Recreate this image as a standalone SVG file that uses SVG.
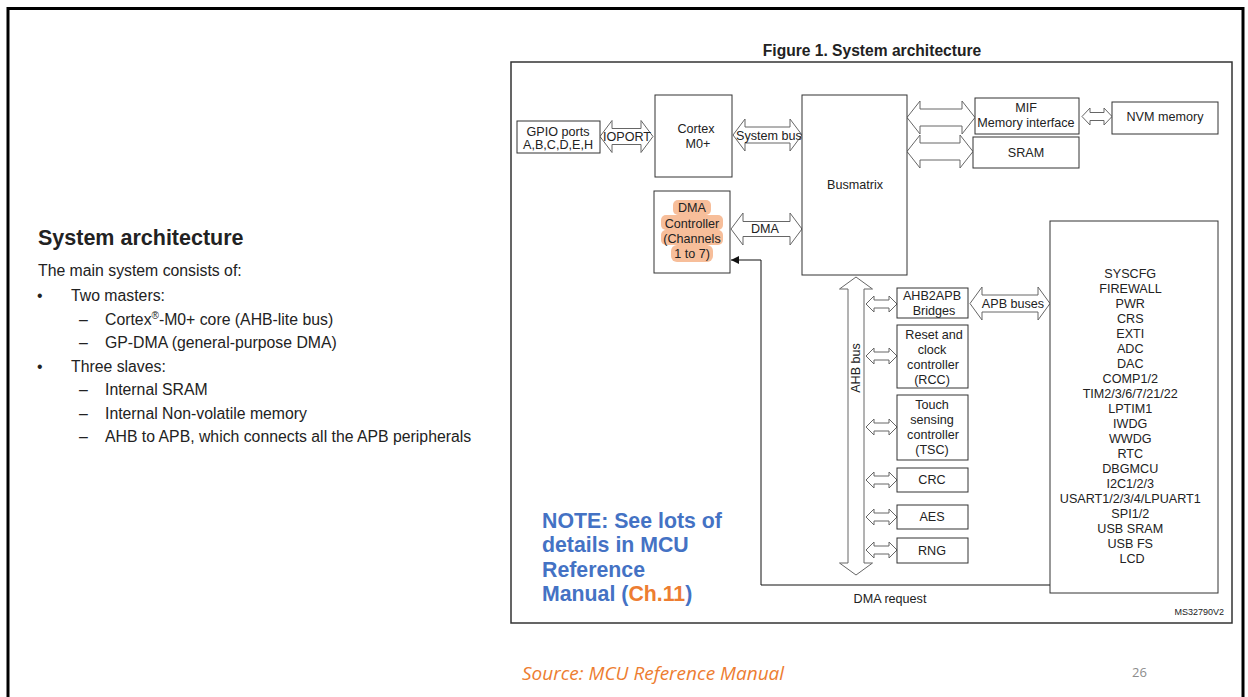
<svg xmlns="http://www.w3.org/2000/svg" width="1248" height="697" viewBox="0 0 1248 697">
<style>
.t{font-family:"Liberation Sans",Arial,sans-serif;fill:#222}
.b{font-size:15.8px}
.f{font-family:"Liberation Sans",Arial,sans-serif;font-size:12.6px;fill:#222;text-anchor:middle}
.box{fill:#fff;stroke:#333;stroke-width:1}
.dar{fill:#fff;stroke:#666;stroke-width:1}
.hl{fill:#F7BE9A}
.note{font-family:"Liberation Sans",Arial,sans-serif;font-weight:bold;font-size:21.3px;fill:#4472C4}
</style>
<defs>
<marker id="ah" viewBox="0 0 10 10" refX="10" refY="5" markerWidth="8" markerHeight="8" markerUnits="userSpaceOnUse" orient="auto"><path d="M0,0 L10,5 L0,10 z" fill="#111"/></marker>
</defs>
<rect width="1248" height="697" fill="#fff"/>
<rect x="8" y="8.5" width="1235" height="720" fill="none" stroke="#000" stroke-width="3"/>

<g id="left-text">
<text class="t" x="38" y="245" font-size="21.5" font-weight="bold" fill="#1a1a1a">System architecture</text>
<text class="t b" x="38" y="276">The main system consists of:</text>
<text class="t b" x="37" y="301">•</text>
<text class="t b" x="71" y="301">Two masters:</text>
<text class="t b" x="79" y="325">–</text>
<text class="t b" x="105" y="325">Cortex<tspan font-size="10" dy="-6">®</tspan><tspan dy="6">-M0+ core (AHB-lite bus)</tspan></text>
<text class="t b" x="79" y="348">–</text>
<text class="t b" x="105" y="348">GP-DMA (general-purpose DMA)</text>
<text class="t b" x="37" y="372">•</text>
<text class="t b" x="71" y="372">Three slaves:</text>
<text class="t b" x="79" y="395">–</text>
<text class="t b" x="105" y="395">Internal SRAM</text>
<text class="t b" x="79" y="419">–</text>
<text class="t b" x="105" y="419">Internal Non-volatile memory</text>
<text class="t b" x="79" y="442">–</text>
<text class="t b" x="105" y="442">AHB to APB, which connects all the APB peripherals</text>
</g>

<g id="figure-frame">
<text class="t" x="872" y="56" font-size="15.6" font-weight="bold" text-anchor="middle" fill="#111">Figure 1. System architecture</text>
<rect x="511" y="62" width="721" height="561" fill="none" stroke="#333" stroke-width="1.5"/>
<text class="t" x="1224" y="615" font-size="9" text-anchor="end">MS32790V2</text>
</g>

<g id="connectors">
<path class="dar" d="M600,136.5 L612,120.5 L612,128.5 L641,128.5 L641,120.5 L653,136.5 L641,152.5 L641,144.5 L612,144.5 L612,152.5 Z"/>
<text class="f" x="627" y="141">IOPORT</text>
<path class="dar" d="M733,135 L745,119 L745,127 L790,127 L790,119 L802,135 L790,151 L790,143 L745,143 L745,151 Z"/>
<text class="f" x="769" y="140">System bus</text>
<path class="dar" d="M731,229 L743,213 L743,221.5 L790,221.5 L790,213 L802,229 L790,245 L790,236.5 L743,236.5 L743,245 Z"/>
<text class="f" x="765" y="233">DMA</text>
<path class="dar" d="M907,117.5 L920,101 L920,109 L962,109 L962,101 L975,117.5 L962,134 L962,126 L920,126 L920,134 Z"/>
<path class="dar" d="M907,151.5 L920,135 L920,143 L960,143 L960,135 L973,151.5 L960,168 L960,160 L920,160 L920,168 Z"/>
<path class="dar" d="M1082,116.5 L1090,108 L1090,112.5 L1104,112.5 L1104,108 L1112,116.5 L1104,125 L1104,120.5 L1090,120.5 L1090,125 Z"/>
<path class="dar" d="M856,277 L872.5,289 L864,289 L864,563 L872.5,563 L856,575 L839.5,563 L848,563 L848,289 L839.5,289 Z"/>
<text class="f" transform="translate(860,368) rotate(-90)">AHB bus</text>
<path class="dar" d="M866,304 L874,296 L874,300 L889,300 L889,296 L897,304 L889,312 L889,308 L874,308 L874,312 Z"/>
<path class="dar" d="M866,356 L874,348 L874,352 L889,352 L889,348 L897,356 L889,364 L889,360 L874,360 L874,364 Z"/>
<path class="dar" d="M866,427 L874,419 L874,423 L889,423 L889,419 L897,427 L889,435 L889,431 L874,431 L874,435 Z"/>
<path class="dar" d="M866,480 L874,472 L874,476 L889,476 L889,472 L897,480 L889,488 L889,484 L874,484 L874,488 Z"/>
<path class="dar" d="M866,517 L874,509 L874,513 L889,513 L889,509 L897,517 L889,525 L889,521 L874,521 L874,525 Z"/>
<path class="dar" d="M866,550 L874,542 L874,546 L889,546 L889,542 L897,550 L889,558 L889,554 L874,554 L874,558 Z"/>
<path class="dar" d="M970,303.5 L982,287 L982,295 L1038,295 L1038,287 L1050,303.5 L1038,320 L1038,312 L982,312 L982,320 Z"/>
<text class="f" x="1013" y="308">APB buses</text>
<path d="M1050,585 L761,585 L761,260 L731,260" fill="none" stroke="#111" stroke-width="1" marker-end="url(#ah)"/>
<text class="f" x="890" y="603">DMA request</text>
</g>

<g id="gpio">
<rect class="box" x="517" y="121" width="83" height="32"/>
<text class="f" x="558" y="136">GPIO ports</text>
<text class="f" x="558" y="149">A,B,C,D,E,H</text>
</g>
<g id="cortex">
<rect class="box" x="655" y="95" width="77" height="82"/>
<text class="f" x="696" y="133">Cortex</text>
<text class="f" x="698" y="148">M0+</text>
</g>
<g id="dma-controller">
<rect class="box" x="654" y="191" width="76" height="82"/>
<rect class="hl" x="673" y="200" width="38" height="15" rx="5"/>
<rect class="hl" x="661" y="215" width="62" height="15" rx="5"/>
<rect class="hl" x="661" y="230" width="62" height="15" rx="5"/>
<rect class="hl" x="671" y="245" width="42" height="17" rx="6"/>
<text class="f" x="692" y="212">DMA</text>
<text class="f" x="692" y="228">Controller</text>
<text class="f" x="692" y="243">(Channels</text>
<text class="f" x="692" y="258">1 to 7)</text>
</g>
<g id="busmatrix">
<rect class="box" x="802" y="95" width="105" height="180"/>
<text class="f" x="855" y="189">Busmatrix</text>
</g>
<g id="mif">
<rect class="box" x="975" y="98" width="104" height="36"/>
<text class="f" x="1026" y="112">MIF</text>
<text class="f" x="1026" y="127">Memory interface</text>
</g>
<g id="sram">
<rect class="box" x="973" y="137" width="106" height="31"/>
<text class="f" x="1026" y="157">SRAM</text>
</g>
<g id="nvm">
<rect class="box" x="1112" y="102" width="106" height="32"/>
<text class="f" x="1165" y="121">NVM memory</text>
</g>
<g id="ahb2apb">
<rect class="box" x="897" y="288" width="71" height="30"/>
<text class="f" x="932" y="300">AHB2APB</text>
<text class="f" x="934" y="315">Bridges</text>
</g>
<g id="rcc">
<rect class="box" x="897" y="325" width="71" height="63"/>
<text class="f" x="934" y="339">Reset and</text>
<text class="f" x="932" y="354">clock</text>
<text class="f" x="933" y="369">controller</text>
<text class="f" x="932" y="384">(RCC)</text>
</g>
<g id="tsc">
<rect class="box" x="897" y="395" width="71" height="65"/>
<text class="f" x="932" y="409">Touch</text>
<text class="f" x="932" y="424">sensing</text>
<text class="f" x="933" y="439">controller</text>
<text class="f" x="932" y="454">(TSC)</text>
</g>
<g id="crc">
<rect class="box" x="897" y="468" width="71" height="24"/>
<text class="f" x="932" y="484">CRC</text>
</g>
<g id="aes">
<rect class="box" x="897" y="505" width="71" height="24"/>
<text class="f" x="932" y="521">AES</text>
</g>
<g id="rng">
<rect class="box" x="897" y="538" width="71" height="25"/>
<text class="f" x="932" y="555">RNG</text>
</g>
<g id="apb-peripherals">
<rect class="box" x="1050" y="221" width="168" height="372"/>
<text class="f" x="1132">
<tspan x="1132" y="278">SYSCFG</tspan>
<tspan x="1132" y="293">FIREWALL</tspan>
<tspan x="1132" y="308">PWR</tspan>
<tspan x="1132" y="323">CRS</tspan>
<tspan x="1132" y="338">EXTI</tspan>
<tspan x="1132" y="353">ADC</tspan>
<tspan x="1132" y="368">DAC</tspan>
<tspan x="1132" y="383">COMP1/2</tspan>
<tspan x="1132" y="398">TIM2/3/6/7/21/22</tspan>
<tspan x="1132" y="413">LPTIM1</tspan>
<tspan x="1132" y="428">IWDG</tspan>
<tspan x="1132" y="443">WWDG</tspan>
<tspan x="1132" y="458">RTC</tspan>
<tspan x="1132" y="473">DBGMCU</tspan>
<tspan x="1132" y="488">I2C1/2/3</tspan>
<tspan x="1132" y="503">USART1/2/3/4/LPUART1</tspan>
<tspan x="1132" y="518">SPI1/2</tspan>
<tspan x="1132" y="533">USB SRAM</tspan>
<tspan x="1132" y="548">USB FS</tspan>
<tspan x="1132" y="563">LCD</tspan>
</text>
</g>

<g id="note">
<text class="note"><tspan x="542" y="528">NOTE: See lots of</tspan><tspan x="542" y="552">details in MCU</tspan><tspan x="542" y="577">Reference</tspan><tspan x="542" y="601">Manual (</tspan><tspan fill="#ED7D31">Ch.11</tspan><tspan>)</tspan></text>
</g>

<g id="footer">
<text x="522" y="680" font-family="'Open Sans',Lato,sans-serif" font-style="italic" font-size="19" fill="#ED7D31">Source: MCU Reference Manual</text>
<text x="1132" y="677" font-family="'Open Sans',sans-serif" font-size="13" fill="#8c8c8c">26</text>
</g>
</svg>
